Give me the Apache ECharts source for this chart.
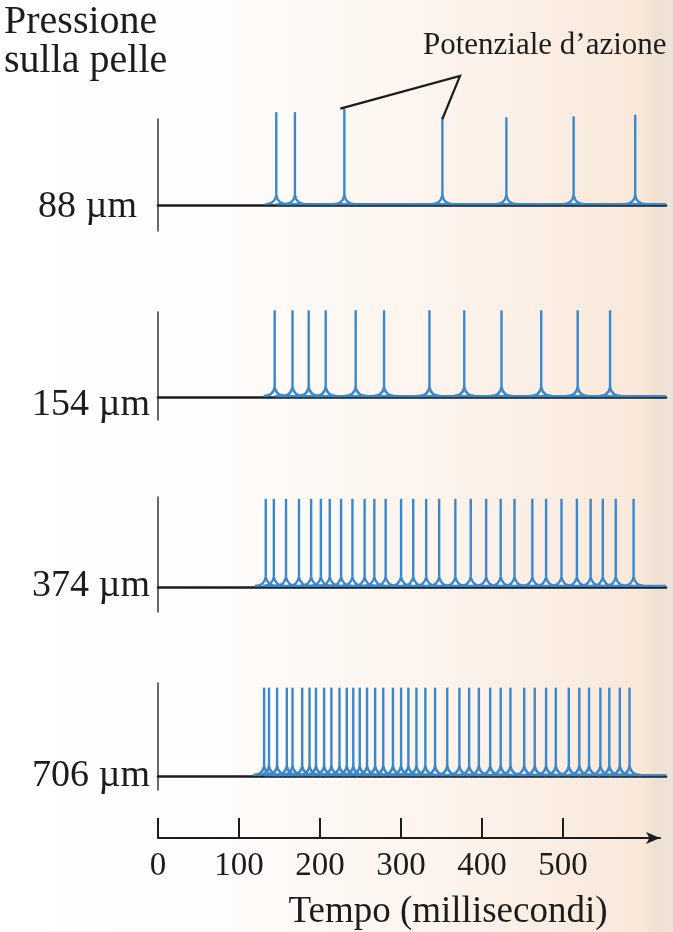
<!DOCTYPE html>
<html>
<head>
<meta charset="utf-8">
<script src="https://cdn.jsdelivr.net/npm/echarts@6/dist/echarts.min.js"></script>
<style>html,body{margin:0;padding:0;background:#fff}#c{width:673px;height:932px}</style>
</head>
<body>
<div id="c"></div>
<script>
// ---------- data ----------
const timeTicks = [0, 100, 200, 300, 400, 500];               // ms
const traceLabels = ['88 µm', '154 µm', '374 µm', '706 µm'];
// spike times (ms) for each skin-pressure level
const spikeTimes88  = [146, 169, 230, 351, 430, 513, 589];
const spikePeaks88  = [1.08, 1.08, 1.12, 1.02, 1.02, 1.03, 1.05];
const spikeTimes154 = [144, 166, 186, 207, 244, 279, 335, 378, 424, 473, 518, 558];
const spikePeak154  = 1.02;
const spikeTimes374 = [133, 143, 158, 174, 189, 201, 212, 226, 240, 255, 267, 281, 300, 315, 331,
                       347, 367, 386, 405, 423, 440, 462, 479, 498, 517, 534, 549, 565, 587];
const spikePeak374  = 0.98;
const spikeTimes706 = [131, 137, 147, 159, 166, 178, 187, 195, 205, 214, 224, 233, 241, 249, 258,
                       268, 278, 290, 300, 309, 319, 330, 342, 357, 372, 384, 396, 410, 423, 435,
                       452, 465, 479, 491, 507, 520, 532, 546, 557, 570, 582];
const spikePeak706  = 0.95;

// ---------- layout / style ----------
const FONT = '"Liberation Serif", "Times New Roman", serif';
const INK = '#1c1c1c';
const BLUE = '#3a88cc';
const X_MAX = 627;
const traces = [
  { times: spikeTimes88,  peaks: spikeTimes88.map((t, i) => spikePeaks88[i]) },
  { times: spikeTimes154, peaks: spikeTimes154.map(() => spikePeak154) },
  { times: spikeTimes374, peaks: spikeTimes374.map(() => spikePeak374) },
  { times: spikeTimes706, peaks: spikeTimes706.map(() => spikePeak706) }
];
const gridBoxes = [
  { top: 119, height: 112, min: -0.30 },
  { top: 312, height: 108, min: -0.27 },
  { top: 497, height: 115, min: -0.28 },
  { top: 683, height: 107, min: -0.15 }
];
const labelPos = [ { x: 137, y: 207 }, { x: 150, y: 405 }, { x: 150, y: 586 }, { x: 150, y: 776 } ];

const chart = echarts.init(document.getElementById('c'), null, { renderer: 'canvas' });

function renderSpike(params, api) {
  const t = api.value(0), a = api.value(1);
  const base = api.coord([t, 0]);
  const top = api.coord([t, a]);
  const x = base[0], y0 = base[1] - 1, yf = y0 - 9, w = 11;
  const style = { stroke: BLUE, lineWidth: 2.4, fill: null };
  return {
    type: 'group',
    children: [
      { type: 'line', shape: { x1: x, y1: yf, x2: x, y2: top[1] }, style },
      { type: 'bezierCurve', shape: { x1: x - w, y1: y0, x2: x, y2: yf, cpx1: x - 1.5, cpy1: y0 }, style },
      { type: 'bezierCurve', shape: { x1: x + w, y1: y0, x2: x, y2: yf, cpx1: x + 1.5, cpy1: y0 }, style }
    ]
  };
}
function renderBaseline(params, api) {
  const p1 = api.coord([api.value(0), 0]);
  const p2 = api.coord([api.value(1), 0]);
  return { type: 'line', shape: { x1: p1[0], y1: p1[1] - 1, x2: p2[0], y2: p2[1] - 1 },
           style: { stroke: BLUE, lineWidth: 2.2 } };
}

const grid = [], xAxis = [], yAxis = [], series = [];
gridBoxes.forEach((g, i) => {
  grid.push({ left: 158, width: 508, top: g.top, height: g.height });
  xAxis.push({
    type: 'value', gridIndex: i, min: 0, max: X_MAX,
    axisLine: { show: true, onZero: true, lineStyle: { color: INK, width: 2.5 } },
    axisTick: { show: false }, axisLabel: { show: false }, splitLine: { show: false }
  });
  yAxis.push({
    type: 'value', gridIndex: i, min: g.min, max: 1,
    axisLine: { show: true, onZero: false, lineStyle: { color: '#444', width: 1.6 } },
    axisTick: { show: false }, axisLabel: { show: false }, splitLine: { show: false }
  });
  const tr = traces[i];
  series.push({
    type: 'custom', xAxisIndex: i, yAxisIndex: i, clip: false, silent: true, z: 3,
    renderItem: renderBaseline,
    data: [[tr.times[0], X_MAX]]
  });
  series.push({
    type: 'custom', xAxisIndex: i, yAxisIndex: i, clip: false, silent: true, z: 4,
    renderItem: renderSpike,
    data: tr.times.map((t, k) => [t, tr.peaks[k]])
  });
});
// time axis
grid.push({ left: 158, width: 502, top: 818, height: 20 });
xAxis.push({
  type: 'value', gridIndex: 4, min: 0, max: 502 / 508 * X_MAX, position: 'bottom',
  axisLine: { show: true, onZero: false, symbol: ['none', 'arrow'], symbolSize: [9, 14], lineStyle: { color: INK, width: 2 } },
  axisTick: { show: true, inside: true, length: 20, customValues: timeTicks, lineStyle: { color: INK, width: 2 } },
  axisLabel: { show: true, customValues: timeTicks, margin: 12, fontFamily: FONT, fontSize: 33, color: INK },
  splitLine: { show: false }
});
yAxis.push({ type: 'value', gridIndex: 4, show: false, min: 0, max: 1 });

const graphic = [
  { id: 'bg', type: 'rect', z: -100, silent: true, shape: { x: 0, y: 0, width: 673, height: 932 },
    style: { fill: new echarts.graphic.LinearGradient(0, 0, 1, 0, [
      { offset: 0, color: '#ffffff' }, { offset: 0.35, color: '#fefcfa' },
      { offset: 0.7, color: '#fcf2ea' }, { offset: 0.955, color: '#f9e8da' },
      { offset: 0.975, color: '#ede0d3' }, { offset: 1, color: '#f0e4d8' } ]) } },
  { id: 't1', type: 'text', x: 4, y: 22, style: { text: 'Pressione', font: '40px ' + FONT, fill: INK, textVerticalAlign: 'middle' } },
  { id: 't2', type: 'text', x: 4, y: 61, style: { text: 'sulla pelle', font: '40px ' + FONT, fill: INK, textVerticalAlign: 'middle' } },
  { id: 't3', type: 'text', x: 423, y: 46, style: { text: 'Potenziale d’azione', font: '31px ' + FONT, fill: INK, textVerticalAlign: 'middle' } },
  { id: 't4', type: 'text', x: 448, y: 912, style: { text: 'Tempo (millisecondi)', font: '37px ' + FONT, fill: INK, textAlign: 'center', textVerticalAlign: 'middle' } }
];
traceLabels.forEach((lab, i) => {
  graphic.push({ id: 'lab' + i, type: 'text', x: labelPos[i].x, y: labelPos[i].y,
    style: { text: lab, font: '38px ' + FONT, fill: INK, textAlign: 'right', textVerticalAlign: 'middle' } });
});

chart.setOption({ animation: false, grid, xAxis, yAxis, series, graphic });

// pointer lines from the label to two spikes of the first trace
const pA = chart.convertToPixel({ xAxisIndex: 0, yAxisIndex: 0 }, [spikeTimes88[2], spikePeaks88[2]]);
const pB = chart.convertToPixel({ xAxisIndex: 0, yAxisIndex: 0 }, [spikeTimes88[3], spikePeaks88[3] - 0.02]);
chart.setOption({ graphic: [{ id: 'ptr', type: 'polyline', z: 10, shape: { points: [[pA[0] - 4, pA[1]], [460, 76], pB] },
  style: { stroke: INK, lineWidth: 2.2, fill: null } }] });
</script>
</body>
</html>
